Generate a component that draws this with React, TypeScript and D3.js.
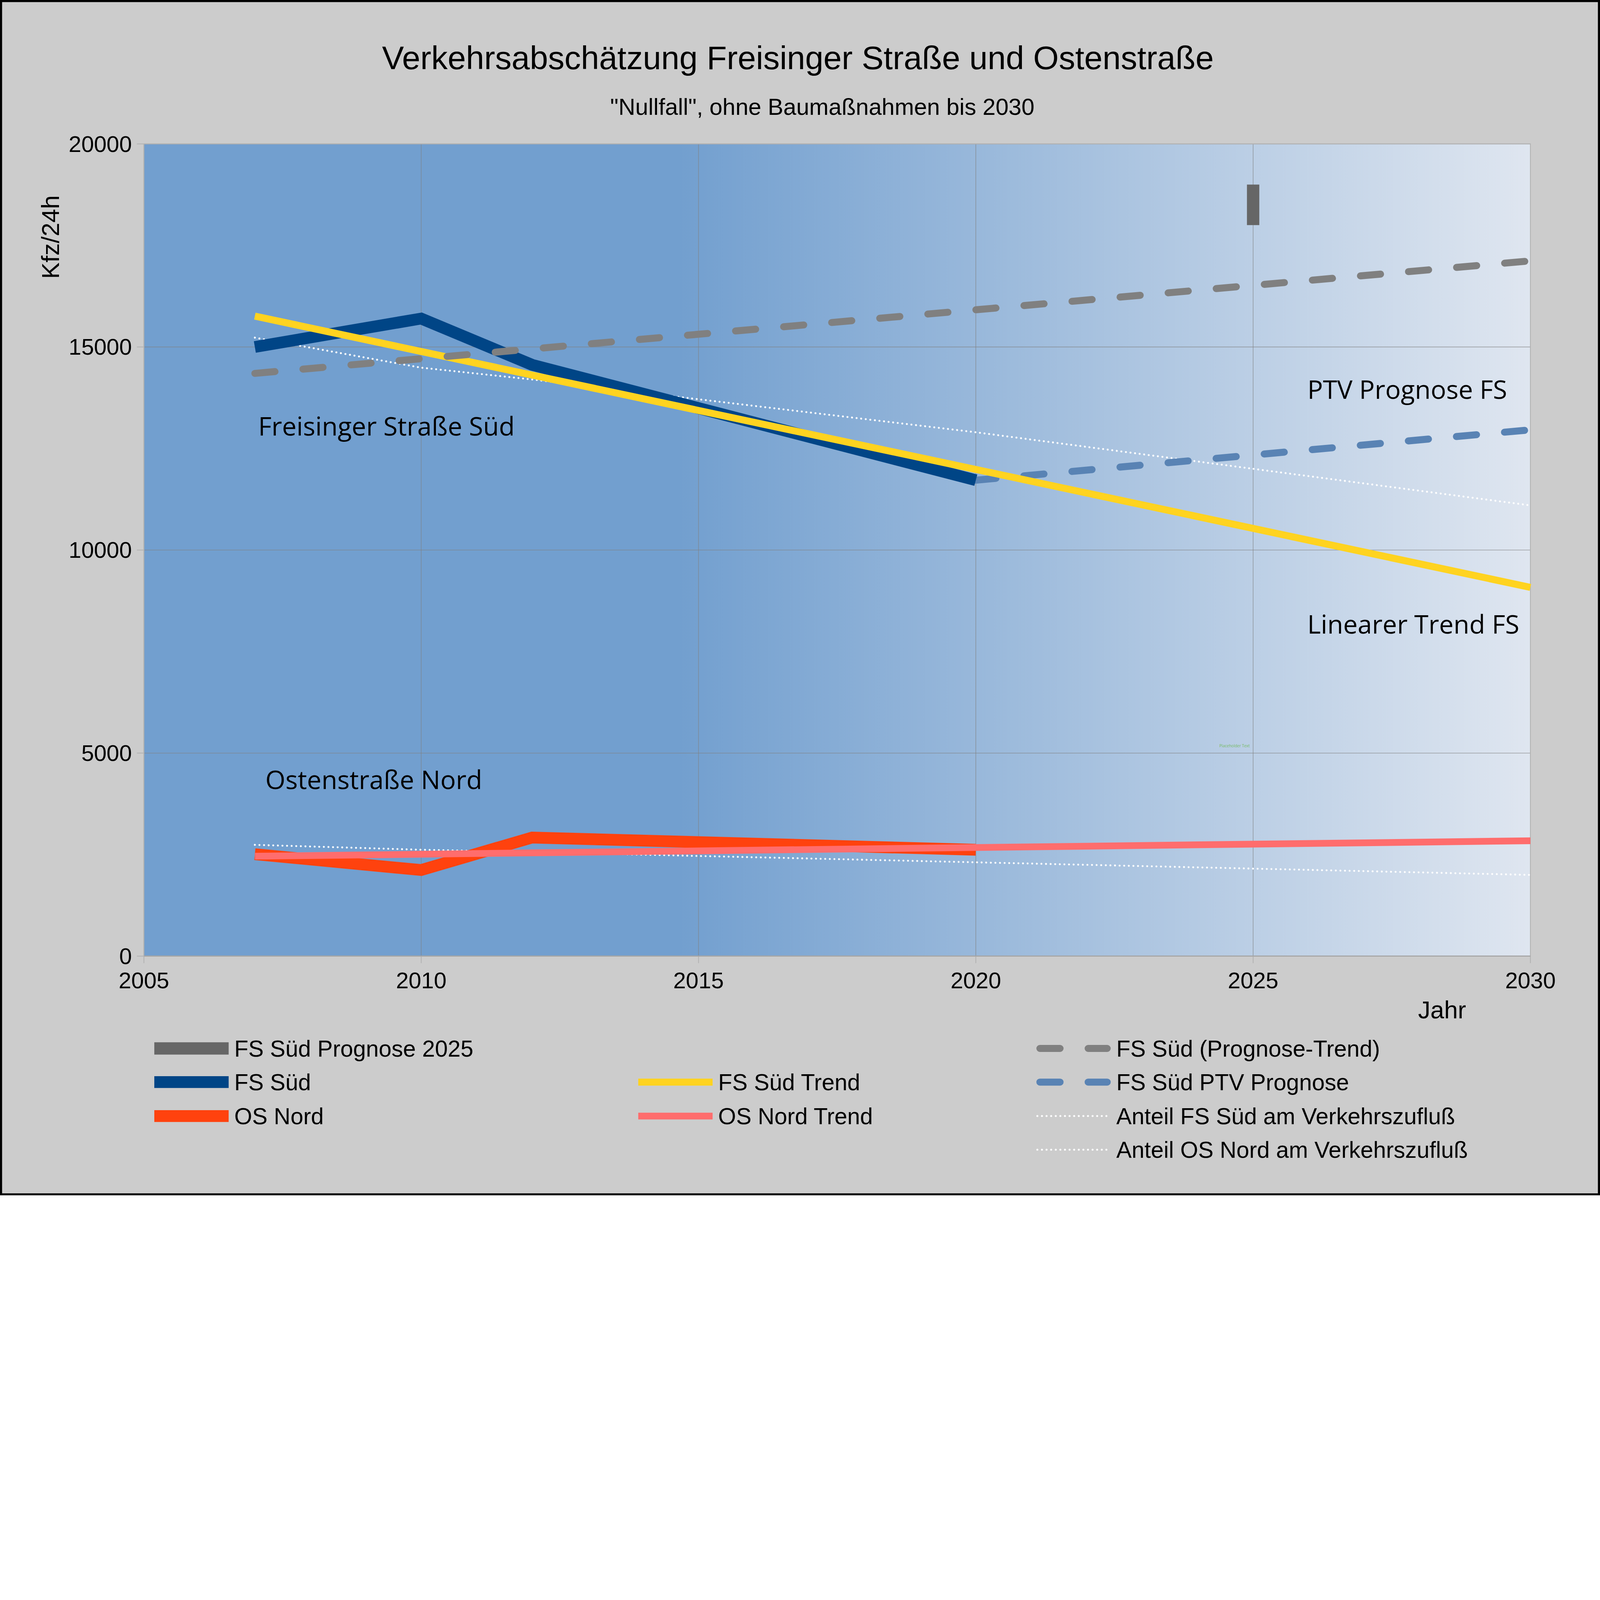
import * as d3 from 'd3'
import React, { useRef, useEffect } from 'react'

const WIDTH = 5703
const HEIGHT = 4261

// Axes
const xTicks = [2005, 2010, 2015, 2020, 2025, 2030]
const yTicks = [0, 5000, 10000, 15000, 20000]

// Measured counts (Kfz/24h)
const messYears = [2007, 2010, 2012, 2020]
const fsSued = [15000, 15700, 14560, 11720]
const osNord = [2510, 2120, 2920, 2620]

// Trends
const trendYears = [2007, 2030]
const fsSuedTrend = [15760, 9080]
const osNordTrend = [2460, 2840]
const fsPrognoseTrend = [14350, 17120]

// PTV forecast
const ptvYears = [2020, 2030]
const fsPtvPrognose = [11720, 12960]

// Forecast 2025 (range bar)
const prognoseYears = [2025, 2025]
const fsPrognose2025 = [18000, 19000]

// Share of inflow
const anteilYears = [2007, 2010, 2012, 2020, 2025, 2030]
const anteilFs = [15230, 14490, 14200, 12900, 12000, 11100]
const anteilOs = [2740, 2620, 2560, 2310, 2155, 2000]

const App = () => {
  const d3Container = useRef<SVGSVGElement | null>(null)

  useEffect(() => {
    const svg = d3.select(d3Container.current)
    svg.selectAll('*').remove()

    const left = 513, right = 5455, top = 513, bottom = 3408
    const x = d3.scaleLinear().domain([2005, 2030]).range([left, right])
    const y = d3.scaleLinear().domain([0, 20000]).range([bottom, top])
    const sans = "'Liberation Sans', Arial, sans-serif"
    const ubuntuLike = "'Open Sans', 'Noto Sans', sans-serif"

    // Page background + frame
    svg.append('rect')
      .attr('x', 3.75).attr('y', 3.75)
      .attr('width', WIDTH - 7.5).attr('height', HEIGHT - 7.5)
      .attr('fill', '#cccccc')
      .attr('stroke', '#000').attr('stroke-width', 7.5)

    // Plot area gradient
    const grad = svg.append('defs').append('linearGradient')
      .attr('id', 'plotBg')
      .attr('x1', 0).attr('x2', 1).attr('y1', 0).attr('y2', 0)
    const stops: [number, string][] = [[0, '#729fcf'], [0.385, '#729fcf'], [1, '#dfe6f0']]
    stops.forEach(([o, c]) => grad.append('stop').attr('offset', o).attr('stop-color', c))

    svg.append('rect')
      .attr('x', left).attr('y', top)
      .attr('width', right - left).attr('height', bottom - top)
      .attr('fill', 'url(#plotBg)')

    // Grid lines
    svg.selectAll('.vgrid').data(xTicks).enter().append('line')
      .attr('x1', d => x(d)).attr('x2', d => x(d))
      .attr('y1', top).attr('y2', bottom)
      .attr('stroke', '#808080').attr('stroke-opacity', 0.6).attr('stroke-width', 2.5)
    svg.selectAll('.hgrid').data(yTicks).enter().append('line')
      .attr('x1', left).attr('x2', right)
      .attr('y1', d => y(d)).attr('y2', d => y(d))
      .attr('stroke', '#808080').attr('stroke-opacity', 0.6).attr('stroke-width', 2.5)

    // Outer tick marks
    svg.selectAll('.xtick').data(xTicks).enter().append('line')
      .attr('x1', d => x(d)).attr('x2', d => x(d))
      .attr('y1', bottom).attr('y2', bottom + 25)
      .attr('stroke', '#b3b3b3').attr('stroke-width', 3)
    svg.selectAll('.ytick').data(yTicks).enter().append('line')
      .attr('x1', left - 25).attr('x2', left)
      .attr('y1', d => y(d)).attr('y2', d => y(d))
      .attr('stroke', '#b3b3b3').attr('stroke-width', 3)

    // Plot border / axis lines
    svg.append('rect')
      .attr('x', left).attr('y', top)
      .attr('width', right - left).attr('height', bottom - top)
      .attr('fill', 'none').attr('stroke', '#b3b3b3').attr('stroke-width', 3)
    svg.append('line')
      .attr('x1', left).attr('x2', right).attr('y1', bottom).attr('y2', bottom)
      .attr('stroke', '#a6a6a6').attr('stroke-width', 4)

    // Tick labels
    svg.selectAll('.xlabel').data(xTicks).enter().append('text')
      .attr('x', d => x(d)).attr('y', 3522)
      .attr('text-anchor', 'middle')
      .style('font-family', sans).style('font-size', '81px')
      .text(d => d)
    svg.selectAll('.ylabel').data(yTicks).enter().append('text')
      .attr('x', 470).attr('y', d => y(d) + 28)
      .attr('text-anchor', 'end')
      .style('font-family', sans).style('font-size', '81px')
      .text(d => d)

    // Axis titles
    svg.append('text')
      .attr('transform', 'translate(210, 845) rotate(-90)')
      .attr('text-anchor', 'middle')
      .style('font-family', sans).style('font-size', '88px')
      .text('Kfz/24h')
    svg.append('text')
      .attr('x', 5140).attr('y', 3630)
      .attr('text-anchor', 'middle')
      .style('font-family', sans).style('font-size', '88px')
      .text('Jahr')

    // Titles
    svg.append('text')
      .attr('x', 2844).attr('y', 246)
      .attr('text-anchor', 'middle')
      .style('font-family', sans).style('font-size', '117px')
      .text('Verkehrsabschätzung Freisinger Straße und Ostenstraße')
    svg.append('text')
      .attr('x', 2931).attr('y', 410)
      .attr('text-anchor', 'middle')
      .style('font-family', sans).style('font-size', '83px')
      .text('"Nullfall", ohne Baumaßnahmen bis 2030')

    // Series styles
    const dotted = { color: '#ffffff', width: 7, dash: '0.1 16.3', cap: 'round' }
    const styles: any = {
      prognose2025: { color: '#666666', width: 44, dash: null, cap: 'butt' },
      fsSued: { color: '#004586', width: 42, dash: null, cap: 'butt' },
      osNord: { color: '#ff420e', width: 42, dash: null, cap: 'butt' },
      fsTrend: { color: '#ffd320', width: 25, dash: null, cap: 'butt' },
      osTrend: { color: '#ff6d6d', width: 24, dash: null, cap: 'butt' },
      progTrend: { color: '#808080', width: 25, dash: '72 100', cap: 'round' },
      ptv: { color: '#5983b4', width: 25, dash: '72 100', cap: 'round' },
      anteilFs: dotted,
      anteilOs: dotted,
    }

    const line = d3.line<[number, number]>().x(d => x(d[0])).y(d => y(d[1]))
    const drawSeries = (years: number[], values: number[], s: any) => {
      const pts = years.map((yr, i) => [yr, values[i]] as [number, number])
      svg.append('path')
        .datum(pts)
        .attr('d', line)
        .attr('fill', 'none')
        .attr('stroke', s.color)
        .attr('stroke-width', s.width)
        .attr('stroke-linecap', s.cap)
        .attr('stroke-linejoin', 'miter')
        .attr('stroke-dasharray', s.dash)
    }

    drawSeries(anteilYears, anteilFs, styles.anteilFs)
    drawSeries(anteilYears, anteilOs, styles.anteilOs)
    drawSeries(ptvYears, fsPtvPrognose, styles.ptv)
    drawSeries(messYears, fsSued, styles.fsSued)
    drawSeries(messYears, osNord, styles.osNord)
    drawSeries(trendYears, fsSuedTrend, styles.fsTrend)
    drawSeries(trendYears, osNordTrend, styles.osTrend)
    drawSeries(trendYears, fsPrognoseTrend, styles.progTrend)
    drawSeries(prognoseYears, fsPrognose2025, styles.prognose2025)

    // Annotations inside the plot
    const notes: [string, number, number, string][] = [
      ['Freisinger Straße Süd', 2007.06, 12815, 'start'],
      ['Ostenstraße Nord', 2007.19, 4117, 'start'],
      ['PTV Prognose FS', 2029.58, 13720, 'end'],
      ['Linearer Trend FS', 2029.8, 7938, 'end'],
    ]
    notes.forEach(([t, yr, v, anchor]) => {
      svg.append('text')
        .attr('x', x(yr)).attr('y', y(v))
        .attr('text-anchor', anchor)
        .style('font-family', ubuntuLike).style('font-size', '92px')
        .text(t)
    })
    svg.append('text')
      .attr('x', x(2024.94)).attr('y', y(5147))
      .attr('text-anchor', 'end')
      .attr('fill', '#77bc65')
      .style('font-family', ubuntuLike).style('font-size', '14px')
      .text('Placeholder Text')

    // Legend
    const legendCols = [550, 2275, 3694]
    const legendRows = [3737, 3857, 3978, 4098]
    const legendItems: [string, string, number, number][] = [
      ['FS Süd Prognose 2025', 'prognose2025', 0, 0],
      ['FS Süd', 'fsSued', 0, 1],
      ['OS Nord', 'osNord', 0, 2],
      ['FS Süd Trend', 'fsTrend', 1, 1],
      ['OS Nord Trend', 'osTrend', 1, 2],
      ['FS Süd (Prognose-Trend)', 'progTrend', 2, 0],
      ['FS Süd PTV Prognose', 'ptv', 2, 1],
      ['Anteil FS Süd am Verkehrszufluß', 'anteilFs', 2, 2],
      ['Anteil OS Nord am Verkehrszufluß', 'anteilOs', 2, 3],
    ]
    legendItems.forEach(([label, key, c, r]) => {
      const s = styles[key]
      const x0 = legendCols[c]
      const cy = legendRows[r]
      const inset = s.cap === 'round' ? s.width / 2 : 0
      svg.append('line')
        .attr('x1', x0 + inset).attr('x2', x0 + 265 - inset)
        .attr('y1', cy).attr('y2', cy)
        .attr('stroke', s.color)
        .attr('stroke-width', s.width)
        .attr('stroke-linecap', s.cap)
        .attr('stroke-dasharray', s.dash)
      svg.append('text')
        .attr('x', x0 + 285).attr('y', cy + 29)
        .style('font-family', sans).style('font-size', '82px')
        .text(label)
    })
  }, [])

  // Scale to the window so nothing is clipped if the viewport is smaller
  return (
    <svg ref={ d3Container } viewBox={ `0 0 ${WIDTH} ${HEIGHT}` }
      preserveAspectRatio="xMinYMin meet"
      style={{
        position: 'absolute', left: 0, top: 0, display: 'block',
        width: `min(100vw, calc(100vh * ${WIDTH / HEIGHT}))`,
        height: `min(100vh, calc(100vw * ${HEIGHT / WIDTH}))`,
      }} />
  )
}

export default App
